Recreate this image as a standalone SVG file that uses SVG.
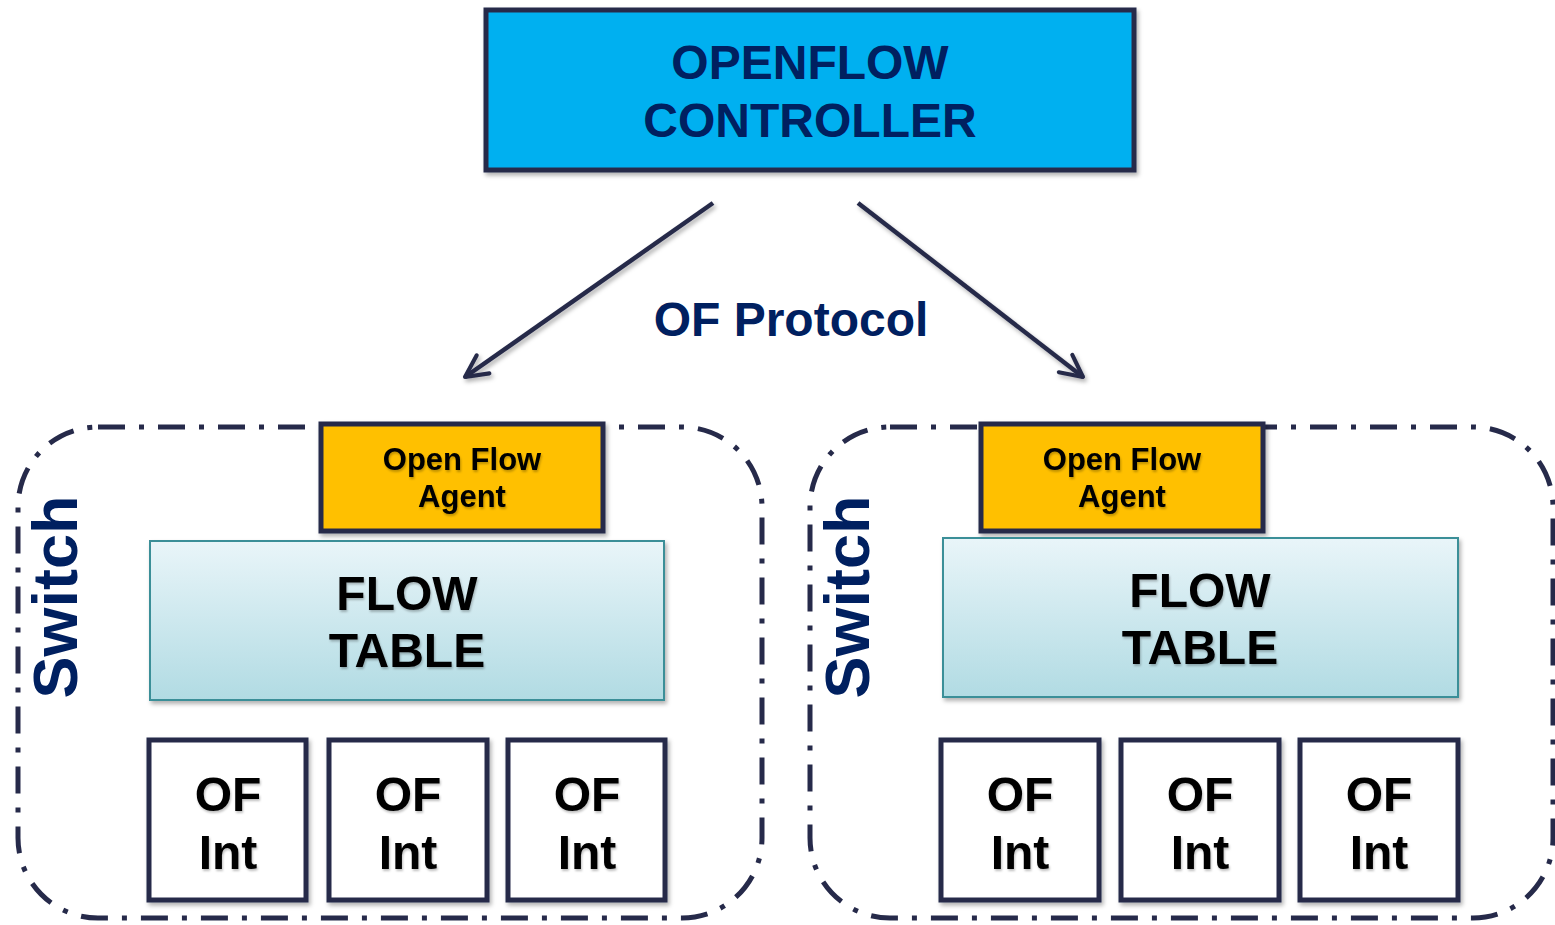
<svg xmlns="http://www.w3.org/2000/svg" width="1555" height="925" viewBox="0 0 1555 925">
<defs>
<linearGradient id="ftg" x1="0" y1="0" x2="0" y2="1">
<stop offset="0" stop-color="#E9F5F9"/>
<stop offset="1" stop-color="#B1DBE3"/>
</linearGradient>
<filter id="sh" x="-10%" y="-10%" width="120%" height="130%">
<feDropShadow dx="2" dy="3" stdDeviation="2" flood-color="#000" flood-opacity="0.3"/>
</filter>
<filter id="tsh" x="-10%" y="-10%" width="120%" height="130%">
<feDropShadow dx="1" dy="2" stdDeviation="1.2" flood-color="#000" flood-opacity="0.25"/>
</filter>
<marker id="arr" viewBox="0 0 20 20" refX="17" refY="10" markerWidth="7" markerHeight="7" orient="auto" markerUnits="strokeWidth">
<path d="M3,3 L17,10 L3,17" fill="none" stroke="#262A4A" stroke-width="2.6" stroke-linecap="round" stroke-linejoin="round"/>
</marker>
</defs>
<style>
text{font-family:"Liberation Sans",Arial,sans-serif;font-weight:bold;text-anchor:middle}
.box{stroke:#262A4A;stroke-width:5;filter:url(#sh)}
.cont{fill:none;stroke:#262A4A;stroke-width:5;stroke-dasharray:27 14 5 14}
.navy{fill:#002060}
.blk{fill:#000;filter:url(#tsh)}
.conn{stroke:#262A4A;stroke-width:4.5;fill:none;filter:url(#sh)}
</style>
<rect width="1555" height="925" fill="#fff"/>

<g id="switch-left">
<rect class="cont" x="18" y="427" width="744" height="491" rx="80" ry="80"/>
<text class="navy" transform="translate(77,597) rotate(-90)" font-size="63">Switch</text>
</g>
<g id="switch-right">
<rect class="cont" x="810" y="427" width="743" height="491" rx="80" ry="80"/>
<text class="navy" transform="translate(869,597) rotate(-90)" font-size="63">Switch</text>
</g>

<g id="controller">
<rect class="box" x="486" y="10" width="648" height="160" fill="#00B0F0"/>
<text class="navy" x="810" y="79" font-size="48">OPENFLOW</text>
<text class="navy" x="810" y="137" font-size="48">CONTROLLER</text>
</g>

<g id="connectors">
<line class="conn" x1="713" y1="203" x2="465" y2="377" marker-end="url(#arr)"/>
<line class="conn" x1="858" y1="203" x2="1083" y2="377" marker-end="url(#arr)"/>
</g>
<text id="of-protocol" class="navy" x="791" y="336" font-size="48">OF Protocol</text>

<g id="agent-left">
<rect class="box" x="321" y="424" width="282" height="107" fill="#FFC000"/>
<text class="blk" x="462" y="470" font-size="31">Open Flow</text>
<text class="blk" x="462" y="507" font-size="31">Agent</text>
</g>
<g id="agent-right">
<rect class="box" x="981" y="424" width="282" height="107" fill="#FFC000"/>
<text class="blk" x="1122" y="470" font-size="31">Open Flow</text>
<text class="blk" x="1122" y="507" font-size="31">Agent</text>
</g>

<g id="table-left">
<rect x="150" y="541" width="514" height="159" fill="url(#ftg)" stroke="#3A8F98" stroke-width="2" filter="url(#sh)"/>
<text class="blk" x="407" y="610" font-size="48">FLOW</text>
<text class="blk" x="407" y="667" font-size="48">TABLE</text>
</g>
<g id="table-right">
<rect x="943" y="538" width="515" height="159" fill="url(#ftg)" stroke="#3A8F98" stroke-width="2" filter="url(#sh)"/>
<text class="blk" x="1200" y="607" font-size="48">FLOW</text>
<text class="blk" x="1200" y="664" font-size="48">TABLE</text>
</g>

<g id="int-l1">
<rect class="box" x="149" y="740" width="157" height="160" fill="#fff"/>
<text class="blk" x="228" y="811" font-size="48">OF</text>
<text class="blk" x="228" y="869" font-size="48">Int</text>
</g>
<g id="int-l2">
<rect class="box" x="329" y="740" width="158" height="160" fill="#fff"/>
<text class="blk" x="408" y="811" font-size="48">OF</text>
<text class="blk" x="408" y="869" font-size="48">Int</text>
</g>
<g id="int-l3">
<rect class="box" x="508" y="740" width="157" height="160" fill="#fff"/>
<text class="blk" x="587" y="811" font-size="48">OF</text>
<text class="blk" x="587" y="869" font-size="48">Int</text>
</g>
<g id="int-r1">
<rect class="box" x="941" y="740" width="158" height="160" fill="#fff"/>
<text class="blk" x="1020" y="811" font-size="48">OF</text>
<text class="blk" x="1020" y="869" font-size="48">Int</text>
</g>
<g id="int-r2">
<rect class="box" x="1121" y="740" width="158" height="160" fill="#fff"/>
<text class="blk" x="1200" y="811" font-size="48">OF</text>
<text class="blk" x="1200" y="869" font-size="48">Int</text>
</g>
<g id="int-r3">
<rect class="box" x="1300" y="740" width="158" height="160" fill="#fff"/>
<text class="blk" x="1379" y="811" font-size="48">OF</text>
<text class="blk" x="1379" y="869" font-size="48">Int</text>
</g>
</svg>
